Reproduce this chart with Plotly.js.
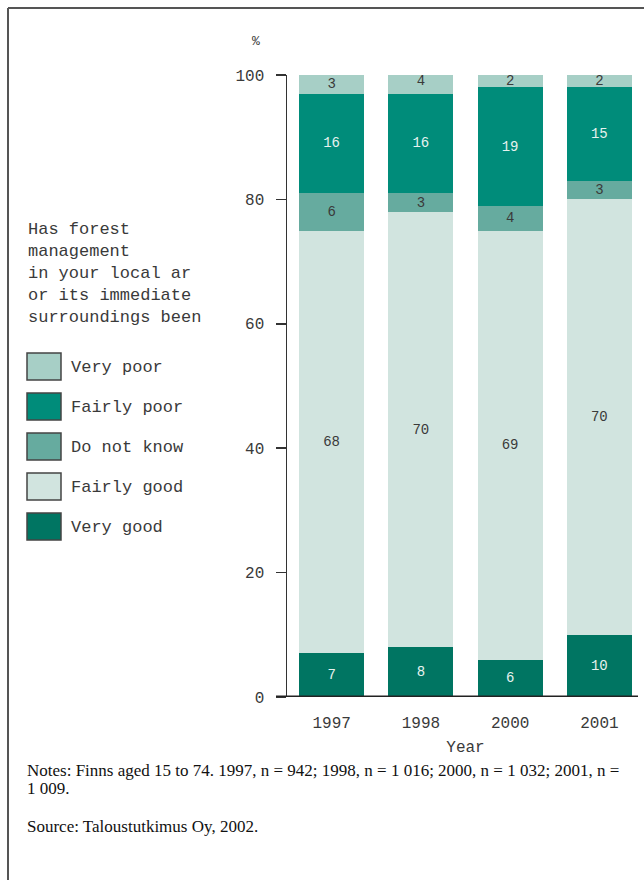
<!DOCTYPE html>
<html>
<head>
<meta charset="utf-8">
<script src="https://cdn.plot.ly/plotly-3.0.1.min.js"></script>
<style>
  html, body { margin: 0; padding: 0; background: #ffffff; }
  #chart { width: 644px; height: 880px; }
</style>
</head>
<body>
<div id="chart"></div>
<script>
// ---- data ----
const years = ['1997', '1998', '2000', '2001'];
const veryGood = [7, 8, 6, 10];
const fairlyGood = [68, 70, 69, 70];
const doNotKnow = [6, 3, 4, 3];
const fairlyPoor = [16, 16, 19, 15];
const veryPoor = [3, 4, 2, 2];
const yTickVals = [0, 20, 40, 60, 80, 100];
const yTickText = ['0', '20', '40', '60', '80', '100'];
const legendTitleLines = ['Has forest', 'management', 'in your local ar', 'or its immediate', 'surroundings been'];
const notesLines = ['Notes: Finns aged 15 to 74. 1997, n = 942; 1998, n = 1 016; 2000, n = 1 032; 2001, n =', '1 009.'];
const sourceText = 'Source: Taloustutkimus Oy, 2002.';

// ---- styles ----
const MONO = 'Liberation Mono, DejaVu Sans Mono, monospace';
const SERIF = 'Liberation Serif, Times New Roman, serif';
const TXT = '#3a3a3a';
const series = [
  { name: 'Very good',   values: veryGood,   color: '#007562', text: '#e6f2ef' },
  { name: 'Fairly good', values: fairlyGood, color: '#d1e4df', text: TXT },
  { name: 'Do not know', values: doNotKnow,  color: '#66ab9f', text: TXT },
  { name: 'Fairly poor', values: fairlyPoor, color: '#008c7a', text: '#e6f2ef' },
  { name: 'Very poor',   values: veryPoor,   color: '#a7cfc6', text: TXT }
];

// plot-area pixel frame
const L = 287, R = 644, T = 75, B = 697, W = 644, H = 880;
const px = x => (x - L) / (R - L);
const py = y => (B - y) / (B - T);

const traces = series.map(s => ({
  type: 'bar',
  name: s.name,
  x: years,
  y: s.values,
  text: s.values.map(String),
  textposition: 'inside',
  insidetextanchor: 'middle',
  textangle: 0,
  textfont: { family: MONO, size: 14, color: s.text },
  marker: { color: s.color, line: { width: 0 } },
  width: 0.73,
  hoverinfo: 'x+y+name',
  showlegend: false
}));

const shapes = [];
const annotations = [];

// frame
shapes.push({ type: 'line', xref: 'paper', yref: 'paper', x0: px(8), x1: px(W), y0: py(8), y1: py(8), line: { color: '#555555', width: 2 } });
shapes.push({ type: 'line', xref: 'paper', yref: 'paper', x0: px(8), x1: px(8), y0: py(8), y1: py(H), line: { color: '#555555', width: 2 } });

// baseline (extends left past the y axis like the tick)
shapes.push({ type: 'line', xref: 'paper', yref: 'y', x0: px(276), x1: px(638), y0: 0, y1: 0, line: { color: '#222222', width: 3 }, layer: 'above' });

// custom legend (top to bottom: Very poor ... Very good)
annotations.push({
  xref: 'paper', yref: 'paper', x: px(26), y: py(218), xanchor: 'left', yanchor: 'top',
  align: 'left', showarrow: false, text: legendTitleLines.join('<br>'),
  font: { family: MONO, size: 17, color: TXT }
});
const legendOrder = series.slice().reverse();
legendOrder.forEach((s, i) => {
  const top = 353 + i * 40;
  shapes.push({
    type: 'rect', xref: 'paper', yref: 'paper',
    x0: px(27), x1: px(61), y0: py(top), y1: py(top + 27),
    fillcolor: s.color, line: { color: '#444444', width: 1.5 }
  });
  annotations.push({
    xref: 'paper', yref: 'paper', x: px(69), y: py(top + 14), xanchor: 'left', yanchor: 'middle',
    showarrow: false, text: s.name, font: { family: MONO, size: 17, color: TXT }
  });
});

// % unit label
annotations.push({
  xref: 'paper', yref: 'paper', x: px(256), y: py(42), xanchor: 'center', yanchor: 'middle',
  showarrow: false, text: '%', font: { family: MONO, size: 13, color: TXT }
});

// notes and source
const noteCenters = [770, 788];
notesLines.forEach((line, i) => {
  annotations.push({
    xref: 'paper', yref: 'paper', x: px(25), y: py(noteCenters[i]), xanchor: 'left', yanchor: 'middle',
    align: 'left', showarrow: false, text: line,
    font: { family: SERIF, size: 17, color: '#111111' }
  });
});
annotations.push({
  xref: 'paper', yref: 'paper', x: px(25), y: py(826), xanchor: 'left', yanchor: 'middle',
  align: 'left', showarrow: false, text: sourceText,
  font: { family: SERIF, size: 17, color: '#111111' }
});

const layout = {
  width: W, height: H,
  margin: { l: L, r: W - R, t: T, b: H - B, pad: 0 },
  paper_bgcolor: '#ffffff', plot_bgcolor: '#ffffff',
  barmode: 'stack',
  showlegend: false,
  uniformtext: { mode: 'show', minsize: 14 },
  xaxis: {
    type: 'category', range: [-0.5, 3.5], fixedrange: true,
    showline: false, showgrid: false, zeroline: false,
    ticks: 'outside', ticklen: 11, tickcolor: 'rgba(0,0,0,0)',
    tickfont: { family: MONO, size: 16, color: TXT },
    title: { text: 'Year', font: { family: MONO, size: 16, color: TXT }, standoff: 8 }
  },
  yaxis: {
    range: [0, 100], fixedrange: true,
    tickvals: yTickVals, ticktext: yTickText,
    showline: true, linecolor: '#333333', linewidth: 1.5,
    ticks: 'outside', ticklen: 10, tickwidth: 1.5, tickcolor: '#333333',
    ticklabelstandoff: 8,
    showgrid: false, zeroline: false,
    tickfont: { family: MONO, size: 16, color: TXT }
  },
  shapes: shapes,
  annotations: annotations
};

Plotly.newPlot('chart', traces, layout, { displayModeBar: false, staticPlot: true });
</script>
</body>
</html>
